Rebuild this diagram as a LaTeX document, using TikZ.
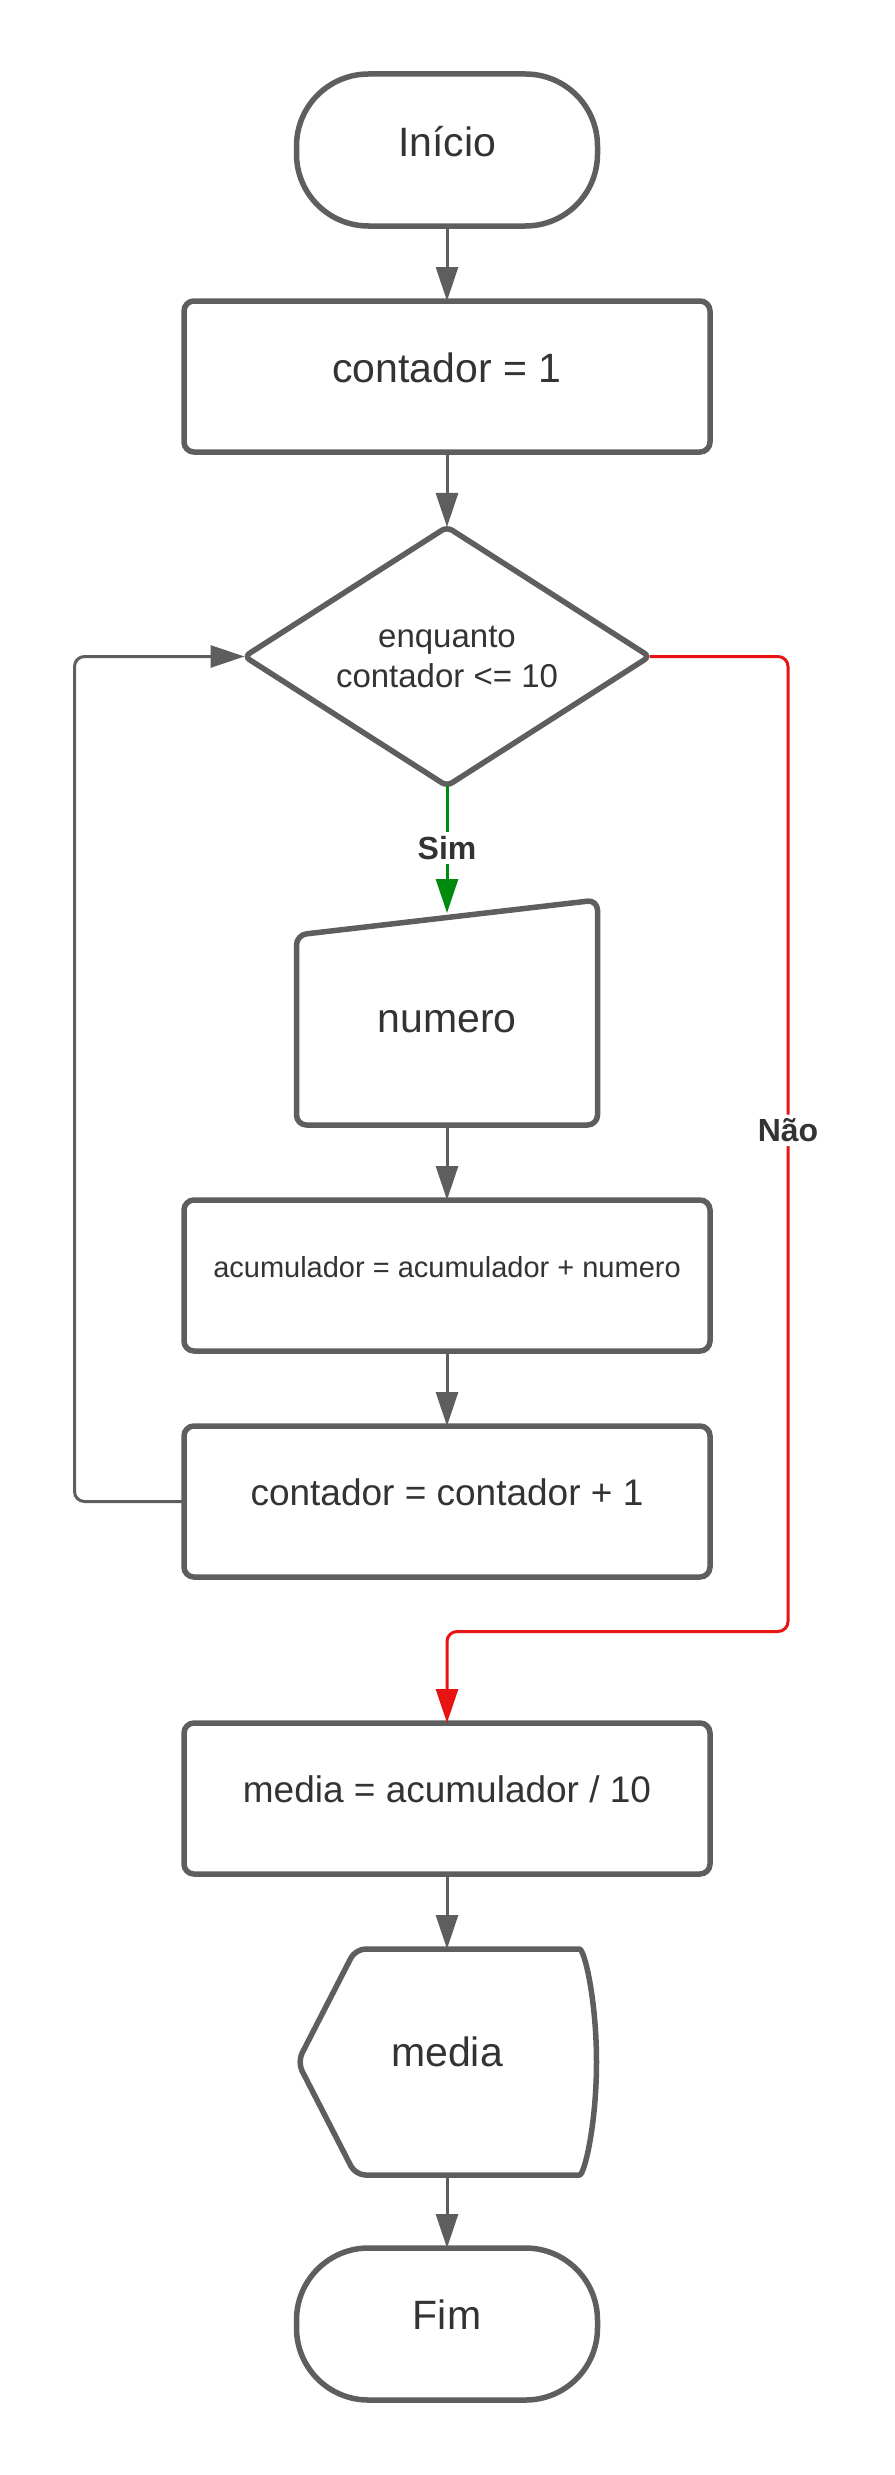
\documentclass[tikz,border=0pt]{standalone}
\usepackage{fontspec}
\setmainfont{Liberation Sans}
\usepackage{xcolor}
\usetikzlibrary{positioning}
\usetikzlibrary{arrows.meta}
\usetikzlibrary{calc}
\usetikzlibrary{shapes.geometric}

\definecolor{linegray}{HTML}{5E5E5E}
\definecolor{textgray}{HTML}{333333}
\definecolor{simgreen}{HTML}{008A0E}
\definecolor{naored}{HTML}{E81313}

\begin{document}
\begin{tikzpicture}[x=1pt,y=1pt,>={Triangle[length=34pt,width=22pt]},node distance=75pt,
                    main node/.style={rectangle,draw=linegray,line width=5.5pt,rounded corners=10pt,
                      minimum width=526pt,minimum height=151pt,inner sep=0pt,outer sep=0pt,text depth=18pt,
                      text=textgray,font=\fontsize{37}{44}\selectfont},
                    term node/.style={main node,minimum width=301pt,minimum height=152pt,rounded corners=72pt,
                      font=\fontsize{41}{49}\selectfont},
                    cond node/.style={diamond,draw=linegray,line width=5.5pt,rounded corners=6pt,aspect=1.56,
                      minimum width=405pt,minimum height=259pt,inner sep=0pt,outer sep=0pt,align=center,
                      text=textgray,font=\fontsize{33}{40}\selectfont},
                    io node/.style={rectangle,inner sep=0pt,outer sep=0pt,text=textgray,
                      font=\fontsize{41}{49}\selectfont},
                    outline/.style={draw=linegray,line width=5.5pt,rounded corners=10pt,line join=round},
                    flow/.style={color=linegray,line width=3pt,->},
                    tag/.style={fill=white,text=textgray,inner sep=4pt,font=\bfseries\fontsize{32}{38}\selectfont}]
\useasboundingbox (0,0) rectangle (894,-2475);

\node[term node] (1) at (447,-150) {Início};
\node[main node,font=\fontsize{41}{49}\selectfont] (2) [below=of 1] {contador = 1};
\node[cond node] (3) [below=of 2] {enquanto\\contador <= 10};
\node[io node,minimum width=301pt,minimum height=225pt,text height=40pt] (4) [below=114pt of 3] {numero};
\node[main node,font=\fontsize{29}{35}\selectfont] (5) [below=of 4] {acumulador = acumulador + numero};
\node[main node] (6) [below=of 5] {contador = contador + 1};
\node[main node] (7) [below=146pt of 6] {media = acumulador / 10};
\node[io node,minimum width=299pt,minimum height=226pt,text depth=20pt] (8) [below=of 7] {media};
\node[term node] (9) [below=73pt of 8] {Fim};

% manual input and display outlines
\draw[outline] (4.south west) -- ($(4.north west)+(0,-35)$) -- (4.north east) -- (4.south east) -- cycle;
\draw[outline] (8.west) -- ($(8.north west)+(58,0)$) -- ($(8.north east)+(-27,0)$)
  arc[start angle=90,end angle=-90,x radius=27,y radius=113] -- ($(8.south west)+(58,0)$) -- cycle;
\coordinate (4in) at ($(4.north)+(0,-13)$);

\path
  (1) edge[flow] (2)
  (2) edge[flow] (3)
  (4) edge[flow] (5)
  (5) edge[flow] (6)
  (7) edge[flow] (8)
  (8) edge[flow] (9);

\draw[flow,color=simgreen] (3) -- node[tag,pos=0.49] {Sim} (4in);
\draw[flow,color=naored,rounded corners=10pt] (3.east) -| node[tag,pos=0.743] {Não}
  ($(6.east)+(78,-130)$) -| (7);
\draw[flow,rounded corners=10pt] (6.west) -| ($(3.west)+(-170,0)$) -- (3.west);
\end{tikzpicture}
\end{document}
